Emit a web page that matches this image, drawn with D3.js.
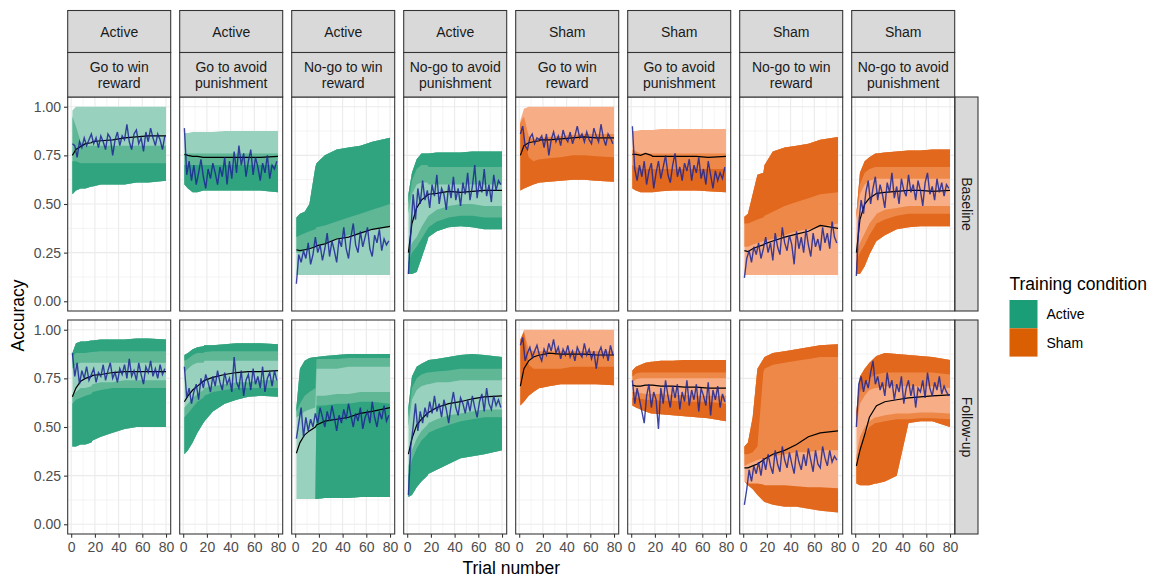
<!DOCTYPE html>
<html>
<head>
<meta charset="utf-8">
<script src="https://cdn.jsdelivr.net/npm/d3@7"></script>
<style>
  body { margin: 0; background: #fff; }
  svg { display: block; font-family: "Liberation Sans", Arial, sans-serif; }
</style>
</head>
<body>
<div id="chart"></div>
<script>
// --- facets / ticks ---
const sessions = ["Baseline", "Follow-up"];
const groups = ["Active", "Active", "Active", "Active", "Sham", "Sham", "Sham", "Sham"];
const tasks = [["Go to win", "reward"], ["Go to avoid", "punishment"], ["No-go to win", "reward"], ["No-go to avoid", "punishment"],
               ["Go to win", "reward"], ["Go to avoid", "punishment"], ["No-go to win", "reward"], ["No-go to avoid", "punishment"]];
const xTicks = [0, 20, 40, 60, 80];
const yTicks = [0, 0.25, 0.5, 0.75, 1];
const legendLabels = ["Active", "Sham"];

// trials at which bands and model mean were read; observed accuracy read every 2nd trial
const trialGrid = [1, 4, 8, 12, 17, 18, 25, 35, 45, 55, 65, 80];
const obsTrials = d3.range(1, 80, 2);

// --- Baseline ---
const b1_lo = [0.55,0.57,0.58,0.58,0.59,0.59,0.60,0.60,0.60,0.61,0.61,0.62];
const b1_hi = [0.98,1,1,1,1,1,1,1,1,1,1,1];
const b1_midHi = [0.95,0.90,0.82,0.80,0.80,0.80,0.80,0.80,0.80,0.80,0.80,0.80];
const b1_darkHi = [0.72,0.72,0.71,0.71,0.71,0.71,0.71,0.71,0.71,0.71,0.71,0.71];
const b1_mean = [0.75,0.78,0.795,0.81,0.815,0.82,0.825,0.83,0.84,0.845,0.85,0.85];
const b1_obs = [0.81,0.80,0.74,0.82,0.79,0.84,0.80,0.83,0.86,0.81,0.84,0.79,0.85,0.82,0.78,0.86,0.84,0.75,0.83,0.87,0.80,0.85,0.83,0.91,0.82,0.78,0.86,0.88,0.81,0.84,0.77,0.87,0.82,0.89,0.84,0.80,0.86,0.83,0.78,0.85];

const b2_lo = [0.60,0.58,0.56,0.56,0.57,0.57,0.57,0.57,0.57,0.57,0.57,0.56];
const b2_hi = [0.865,0.865,0.87,0.87,0.87,0.87,0.87,0.875,0.875,0.875,0.875,0.875];
const b2_midHi = [0.76,0.76,0.76,0.76,0.76,0.76,0.76,0.76,0.76,0.76,0.76,0.76];
const b2_darkHi = [0.70,0.70,0.70,0.70,0.70,0.70,0.70,0.70,0.70,0.70,0.70,0.70];
const b2_mean = [0.755,0.75,0.745,0.745,0.74,0.74,0.74,0.74,0.74,0.74,0.74,0.745];
const b2_obs = [0.89,0.65,0.72,0.62,0.70,0.60,0.66,0.73,0.64,0.58,0.68,0.63,0.71,0.66,0.60,0.69,0.64,0.74,0.60,0.72,0.63,0.77,0.66,0.80,0.70,0.76,0.64,0.72,0.78,0.65,0.74,0.69,0.62,0.71,0.66,0.75,0.63,0.70,0.68,0.72];

const b3_lo = [0.135,0.135,0.135,0.135,0.135,0.135,0.135,0.135,0.135,0.135,0.135,0.135];
const b3_hi = [0.43,0.45,0.46,0.50,0.69,0.71,0.75,0.78,0.79,0.80,0.82,0.84];
const b3_midLo = [0.25,0.25,0.26,0.27,0.28,0.285,0.30,0.32,0.34,0.35,0.37,0.38];
const b3_darkLo = [0.33,0.34,0.35,0.36,0.37,0.38,0.39,0.41,0.43,0.45,0.47,0.50];
const b3_mean = [0.265,0.26,0.265,0.27,0.28,0.285,0.295,0.32,0.33,0.35,0.37,0.385];
const b3_obs = [0.09,0.24,0.20,0.26,0.22,0.30,0.19,0.24,0.33,0.25,0.29,0.21,0.27,0.35,0.23,0.31,0.26,0.20,0.32,0.28,0.38,0.27,0.22,0.33,0.40,0.29,0.25,0.36,0.28,0.33,0.38,0.27,0.23,0.34,0.30,0.37,0.26,0.32,0.29,0.31];

const b4_lo = [0.14,0.14,0.15,0.22,0.31,0.33,0.36,0.38,0.385,0.38,0.37,0.37];
const b4_hi = [0.55,0.66,0.73,0.76,0.76,0.76,0.765,0.765,0.765,0.77,0.77,0.77];
const b4_upMid = [0.45,0.55,0.60,0.61,0.61,0.60,0.60,0.60,0.60,0.60,0.60,0.60];
const b4_upDark = [0.50,0.62,0.68,0.70,0.70,0.69,0.69,0.69,0.69,0.69,0.69,0.69];
const b4_lowMid = [0.25,0.30,0.33,0.38,0.43,0.44,0.47,0.49,0.50,0.50,0.49,0.49];
const b4_lowDark = [0.20,0.25,0.28,0.32,0.37,0.38,0.41,0.43,0.44,0.44,0.43,0.43];
const b4_mean = [0.25,0.40,0.48,0.52,0.545,0.55,0.555,0.565,0.56,0.565,0.57,0.57];
const b4_obs = [0.14,0.35,0.55,0.42,0.58,0.50,0.62,0.52,0.57,0.48,0.60,0.54,0.65,0.50,0.58,0.55,0.47,0.60,0.53,0.64,0.52,0.58,0.49,0.61,0.55,0.66,0.52,0.59,0.70,0.53,0.62,0.56,0.68,0.54,0.60,0.51,0.65,0.57,0.62,0.60];

const b5_lo = [0.57,0.58,0.59,0.60,0.61,0.61,0.615,0.62,0.625,0.625,0.62,0.615];
const b5_hi = [0.93,0.99,1,1,1,1,1,1,1,1,1,1];
const b5_midHi = [0.92,0.95,0.85,0.83,0.84,0.84,0.845,0.85,0.855,0.86,0.86,0.86];
const b5_darkHi = [0.92,0.85,0.74,0.72,0.73,0.73,0.735,0.74,0.75,0.75,0.745,0.74];
const b5_mean = [0.75,0.80,0.815,0.82,0.825,0.83,0.83,0.835,0.84,0.845,0.84,0.84];
const b5_obs = [0.86,0.90,0.80,0.78,0.84,0.86,0.81,0.84,0.83,0.85,0.79,0.86,0.75,0.83,0.87,0.82,0.85,0.80,0.88,0.84,0.82,0.87,0.81,0.85,0.90,0.84,0.86,0.82,0.87,0.83,0.81,0.89,0.85,0.82,0.91,0.84,0.80,0.86,0.84,0.81];

const b6_lo = [0.58,0.57,0.56,0.56,0.56,0.56,0.565,0.57,0.57,0.57,0.565,0.56];
const b6_hi = [0.875,0.875,0.88,0.88,0.88,0.88,0.885,0.885,0.885,0.885,0.885,0.885];
const b6_midHi = [0.78,0.77,0.76,0.76,0.76,0.76,0.76,0.76,0.76,0.76,0.76,0.76];
const b6_darkHi = [0.70,0.69,0.68,0.68,0.68,0.68,0.68,0.68,0.68,0.68,0.68,0.68];
const b6_mean = [0.755,0.755,0.75,0.76,0.75,0.745,0.745,0.745,0.745,0.745,0.74,0.745];
const b6_obs = [0.90,0.68,0.62,0.70,0.64,0.72,0.60,0.67,0.71,0.58,0.66,0.72,0.63,0.69,0.75,0.65,0.61,0.70,0.76,0.64,0.69,0.62,0.71,0.67,0.73,0.62,0.70,0.66,0.74,0.63,0.68,0.60,0.72,0.65,0.58,0.67,0.62,0.66,0.63,0.69];

const b7_lo = [0.135,0.135,0.135,0.135,0.135,0.135,0.135,0.135,0.135,0.135,0.135,0.135];
const b7_hi = [0.435,0.45,0.55,0.65,0.66,0.70,0.77,0.79,0.80,0.81,0.83,0.845];
const b7_midLo = [0.28,0.28,0.29,0.30,0.31,0.31,0.32,0.34,0.36,0.37,0.38,0.40];
const b7_darkLo = [0.40,0.40,0.41,0.42,0.43,0.44,0.46,0.49,0.51,0.53,0.55,0.56];
const b7_mean = [0.26,0.255,0.27,0.28,0.29,0.295,0.31,0.33,0.345,0.36,0.39,0.375];
const b7_obs = [0.12,0.22,0.26,0.20,0.28,0.24,0.30,0.22,0.27,0.33,0.25,0.30,0.21,0.35,0.28,0.24,0.38,0.30,0.26,0.34,0.29,0.19,0.36,0.27,0.33,0.25,0.37,0.29,0.23,0.35,0.28,0.32,0.26,0.38,0.30,0.35,0.27,0.41,0.33,0.30];

const b8_lo = [0.14,0.14,0.18,0.24,0.30,0.31,0.34,0.37,0.38,0.385,0.385,0.385];
const b8_hi = [0.45,0.66,0.72,0.74,0.76,0.76,0.765,0.77,0.775,0.775,0.78,0.78];
const b8_upMid = [0.42,0.55,0.60,0.62,0.63,0.63,0.63,0.63,0.63,0.63,0.63,0.63];
const b8_upDark = [0.44,0.60,0.66,0.68,0.69,0.69,0.69,0.69,0.69,0.69,0.69,0.69];
const b8_lowMid = [0.25,0.30,0.35,0.40,0.44,0.45,0.47,0.48,0.49,0.49,0.49,0.49];
const b8_lowDark = [0.20,0.25,0.29,0.34,0.39,0.40,0.42,0.44,0.45,0.45,0.45,0.45];
const b8_mean = [0.25,0.42,0.50,0.53,0.55,0.555,0.56,0.565,0.57,0.57,0.565,0.57];
const b8_obs = [0.13,0.40,0.52,0.45,0.56,0.62,0.50,0.58,0.64,0.52,0.60,0.55,0.48,0.61,0.56,0.66,0.53,0.59,0.50,0.63,0.57,0.54,0.65,0.56,0.60,0.52,0.62,0.57,0.49,0.61,0.66,0.55,0.59,0.52,0.63,0.56,0.61,0.54,0.60,0.58];

// --- Follow-up ---
const f1_lo = [0.40,0.40,0.41,0.41,0.42,0.43,0.45,0.47,0.49,0.50,0.50,0.50];
const f1_hi = [0.88,0.93,0.94,0.94,0.945,0.945,0.95,0.95,0.95,0.955,0.955,0.95];
const f1_upMid = [0.80,0.82,0.83,0.83,0.83,0.83,0.83,0.83,0.83,0.83,0.83,0.83];
const f1_upDark = [0.86,0.88,0.88,0.88,0.885,0.885,0.89,0.89,0.89,0.89,0.89,0.89];
const f1_lowMid = [0.66,0.68,0.70,0.70,0.71,0.72,0.73,0.73,0.74,0.74,0.74,0.74];
const f1_lowDark = [0.62,0.64,0.65,0.66,0.67,0.68,0.69,0.70,0.70,0.70,0.70,0.70];
const f1_mean = [0.655,0.70,0.735,0.75,0.76,0.765,0.77,0.78,0.785,0.785,0.785,0.785];
const f1_obs = [0.88,0.76,0.83,0.72,0.79,0.75,0.81,0.74,0.77,0.80,0.73,0.78,0.76,0.82,0.74,0.79,0.83,0.75,0.78,0.73,0.80,0.77,0.82,0.75,0.85,0.76,0.79,0.74,0.83,0.77,0.72,0.81,0.78,0.84,0.76,0.80,0.75,0.82,0.77,0.80];

const f2_lo = [0.36,0.38,0.42,0.47,0.52,0.53,0.58,0.62,0.64,0.655,0.66,0.655];
const f2_hi = [0.87,0.88,0.90,0.91,0.915,0.92,0.92,0.925,0.93,0.93,0.93,0.925];
const f2_upMid = [0.78,0.80,0.82,0.83,0.83,0.84,0.84,0.84,0.84,0.84,0.84,0.84];
const f2_upDark = [0.84,0.85,0.87,0.88,0.88,0.885,0.89,0.89,0.89,0.89,0.89,0.89];
const f2_lowMid = [0.60,0.62,0.65,0.67,0.69,0.70,0.71,0.72,0.73,0.73,0.74,0.74];
const f2_lowDark = [0.55,0.57,0.60,0.63,0.65,0.66,0.68,0.69,0.70,0.70,0.70,0.70];
const f2_mean = [0.63,0.66,0.69,0.71,0.735,0.74,0.755,0.77,0.78,0.785,0.785,0.79];
const f2_obs = [0.81,0.65,0.70,0.62,0.68,0.72,0.64,0.75,0.70,0.77,0.73,0.68,0.76,0.71,0.79,0.73,0.69,0.78,0.72,0.75,0.68,0.86,0.73,0.70,0.79,0.66,0.74,0.77,0.69,0.80,0.72,0.76,0.70,0.81,0.68,0.75,0.78,0.71,0.79,0.74];

const f3_lo = [0.13,0.13,0.13,0.13,0.13,0.13,0.135,0.135,0.135,0.14,0.14,0.14];
const f3_hi = [0.60,0.80,0.84,0.855,0.86,0.86,0.865,0.87,0.875,0.875,0.875,0.875];
const f3_upMid = [0.55,0.56,0.58,0.59,0.60,0.80,0.80,0.80,0.81,0.81,0.81,0.81];
const f3_upDark = [0.58,0.62,0.66,0.68,0.70,0.85,0.85,0.85,0.855,0.855,0.855,0.855];
const f3_lowMid = [0.13,0.13,0.13,0.13,0.13,0.66,0.66,0.67,0.67,0.68,0.68,0.68];
const f3_lowDark = [0.13,0.13,0.13,0.13,0.13,0.61,0.61,0.62,0.62,0.63,0.63,0.62];
const f3_mean = [0.365,0.42,0.46,0.48,0.50,0.51,0.53,0.54,0.55,0.57,0.58,0.60];
const f3_obs = [0.44,0.52,0.60,0.45,0.55,0.48,0.54,0.50,0.57,0.52,0.60,0.55,0.50,0.58,0.53,0.61,0.55,0.48,0.56,0.52,0.59,0.54,0.62,0.56,0.50,0.57,0.53,0.60,0.49,0.55,0.58,0.52,0.63,0.55,0.50,0.58,0.54,0.61,0.53,0.56];

const f4_lo = [0.14,0.15,0.19,0.22,0.25,0.26,0.28,0.31,0.34,0.35,0.36,0.38];
const f4_hi = [0.60,0.76,0.81,0.825,0.84,0.845,0.85,0.86,0.87,0.875,0.87,0.86];
const f4_upMid = [0.50,0.64,0.69,0.71,0.72,0.72,0.73,0.73,0.74,0.74,0.74,0.74];
const f4_upDark = [0.55,0.70,0.75,0.77,0.78,0.78,0.785,0.79,0.80,0.80,0.80,0.80];
const f4_lowMid = [0.30,0.38,0.44,0.48,0.51,0.52,0.54,0.56,0.57,0.58,0.59,0.59];
const f4_lowDark = [0.25,0.33,0.39,0.43,0.46,0.47,0.49,0.51,0.53,0.54,0.55,0.55];
const f4_mean = [0.36,0.44,0.51,0.54,0.57,0.575,0.60,0.62,0.63,0.645,0.655,0.66];
const f4_obs = [0.15,0.40,0.50,0.62,0.48,0.58,0.52,0.60,0.55,0.63,0.57,0.66,0.58,0.62,0.55,0.64,0.59,0.52,0.61,0.68,0.60,0.56,0.65,0.62,0.57,0.64,0.58,0.66,0.60,0.55,0.63,0.67,0.58,0.70,0.62,0.59,0.66,0.61,0.64,0.60];

const f5_lo = [0.61,0.63,0.66,0.68,0.70,0.70,0.71,0.72,0.72,0.72,0.72,0.715];
const f5_hi = [0.95,1,1,1,1,1,1,1,1,1,1,1];
const f5_midHi = [0.95,0.99,0.90,0.89,0.89,0.89,0.89,0.89,0.89,0.89,0.89,0.89];
const f5_darkHi = [0.95,0.99,0.82,0.80,0.80,0.80,0.80,0.80,0.81,0.81,0.81,0.81];
const f5_mean = [0.71,0.80,0.84,0.86,0.87,0.87,0.88,0.875,0.875,0.875,0.87,0.87];
const f5_obs = [0.92,0.96,0.84,0.88,0.91,0.86,0.89,0.92,0.87,0.84,0.90,0.87,0.93,0.89,0.95,0.88,0.91,0.85,0.90,0.87,0.92,0.86,0.89,0.84,0.91,0.88,0.86,0.93,0.87,0.90,0.85,0.89,0.80,0.88,0.91,0.86,0.90,0.84,0.92,0.87];

const f6_lo = [0.61,0.60,0.59,0.58,0.57,0.57,0.565,0.56,0.555,0.55,0.545,0.53];
const f6_hi = [0.79,0.81,0.82,0.83,0.835,0.835,0.84,0.84,0.845,0.845,0.845,0.845];
const f6_upMid = [0.73,0.745,0.75,0.75,0.75,0.75,0.75,0.75,0.75,0.75,0.75,0.75];
const f6_upDark = [0.76,0.775,0.78,0.78,0.78,0.78,0.78,0.78,0.78,0.78,0.78,0.78];
const f6_lowMid = [0.68,0.68,0.675,0.67,0.67,0.67,0.67,0.665,0.665,0.66,0.66,0.66];
const f6_lowDark = [0.65,0.65,0.645,0.64,0.64,0.64,0.635,0.635,0.63,0.63,0.63,0.62];
const f6_mean = [0.715,0.71,0.71,0.715,0.715,0.715,0.71,0.71,0.705,0.705,0.70,0.70];
const f6_obs = [0.74,0.62,0.70,0.64,0.58,0.52,0.66,0.72,0.60,0.68,0.64,0.49,0.70,0.62,0.74,0.66,0.60,0.71,0.65,0.72,0.59,0.68,0.63,0.74,0.61,0.69,0.64,0.72,0.58,0.70,0.66,0.61,0.73,0.56,0.69,0.64,0.71,0.60,0.67,0.63];

const f7_lo = [0.22,0.20,0.18,0.15,0.12,0.115,0.10,0.09,0.09,0.08,0.07,0.06];
const f7_hi = [0.40,0.42,0.55,0.80,0.85,0.86,0.88,0.89,0.90,0.91,0.92,0.925];
const f7_upMid = [0.30,0.31,0.32,0.33,0.34,0.34,0.35,0.36,0.37,0.37,0.38,0.38];
const f7_upDark = [0.36,0.36,0.37,0.40,0.78,0.80,0.82,0.83,0.84,0.85,0.86,0.86];
const f7_lowDark = [0.22,0.21,0.21,0.21,0.205,0.20,0.20,0.20,0.195,0.19,0.19,0.185];
const f7_mean = [0.29,0.29,0.30,0.31,0.33,0.335,0.36,0.38,0.41,0.45,0.47,0.48];
const f7_obs = [0.10,0.18,0.28,0.22,0.30,0.26,0.32,0.25,0.34,0.28,0.36,0.30,0.26,0.38,0.31,0.27,0.40,0.33,0.29,0.37,0.31,0.26,0.38,0.32,0.28,0.36,0.30,0.39,0.33,0.27,0.38,0.31,0.29,0.40,0.34,0.30,0.38,0.32,0.35,0.33];

const f8_lo = [0.21,0.20,0.20,0.20,0.21,0.21,0.22,0.25,0.52,0.53,0.53,0.50];
const f8_hi = [0.58,0.76,0.80,0.83,0.86,0.865,0.88,0.875,0.87,0.865,0.86,0.845];
const f8_upMid = [0.50,0.62,0.66,0.69,0.70,0.70,0.71,0.71,0.71,0.71,0.71,0.70];
const f8_upDark = [0.55,0.68,0.72,0.75,0.77,0.77,0.78,0.78,0.78,0.78,0.78,0.77];
const f8_lowMid = [0.35,0.45,0.50,0.53,0.55,0.55,0.56,0.57,0.57,0.575,0.575,0.57];
const f8_lowDark = [0.30,0.40,0.46,0.50,0.52,0.52,0.53,0.54,0.54,0.545,0.545,0.54];
const f8_mean = [0.30,0.38,0.46,0.55,0.60,0.61,0.63,0.64,0.65,0.655,0.66,0.665];
const f8_obs = [0.50,0.72,0.76,0.68,0.74,0.70,0.78,0.84,0.72,0.76,0.69,0.73,0.66,0.78,0.70,0.74,0.64,0.72,0.68,0.76,0.62,0.70,0.74,0.66,0.72,0.60,0.70,0.68,0.74,0.65,0.78,0.70,0.66,0.73,0.69,0.76,0.67,0.71,0.68,0.66];

// bands per panel: [shade, lower edge, upper edge]
const bandsBaseline = [
  [["light", b1_lo, b1_hi], ["mid", b1_lo, b1_midHi], ["dark", b1_lo, b1_darkHi]],
  [["light", b2_lo, b2_hi], ["mid", b2_lo, b2_midHi], ["dark", b2_lo, b2_darkHi]],
  [["light", b3_lo, b3_hi], ["mid", b3_midLo, b3_hi], ["dark", b3_darkLo, b3_hi]],
  [["light", b4_lo, b4_hi], ["mid", b4_upMid, b4_hi], ["mid", b4_lo, b4_lowMid], ["dark", b4_upDark, b4_hi], ["dark", b4_lo, b4_lowDark]],
  [["light", b5_lo, b5_hi], ["mid", b5_lo, b5_midHi], ["dark", b5_lo, b5_darkHi]],
  [["light", b6_lo, b6_hi], ["mid", b6_lo, b6_midHi], ["dark", b6_lo, b6_darkHi]],
  [["light", b7_lo, b7_hi], ["mid", b7_midLo, b7_hi], ["dark", b7_darkLo, b7_hi]],
  [["light", b8_lo, b8_hi], ["mid", b8_upMid, b8_hi], ["mid", b8_lo, b8_lowMid], ["dark", b8_upDark, b8_hi], ["dark", b8_lo, b8_lowDark]]
];
const bandsFollowup = [
  [["light", f1_lo, f1_hi], ["mid", f1_upMid, f1_hi], ["mid", f1_lo, f1_lowMid], ["dark", f1_upDark, f1_hi], ["dark", f1_lo, f1_lowDark]],
  [["light", f2_lo, f2_hi], ["mid", f2_upMid, f2_hi], ["mid", f2_lo, f2_lowMid], ["dark", f2_upDark, f2_hi], ["dark", f2_lo, f2_lowDark]],
  [["light", f3_lo, f3_hi], ["mid", f3_upMid, f3_hi], ["mid", f3_lo, f3_lowMid], ["dark", f3_upDark, f3_hi], ["dark", f3_lo, f3_lowDark]],
  [["light", f4_lo, f4_hi], ["mid", f4_upMid, f4_hi], ["mid", f4_lo, f4_lowMid], ["dark", f4_upDark, f4_hi], ["dark", f4_lo, f4_lowDark]],
  [["light", f5_lo, f5_hi], ["mid", f5_lo, f5_midHi], ["dark", f5_lo, f5_darkHi]],
  [["light", f6_lo, f6_hi], ["mid", f6_upMid, f6_hi], ["mid", f6_lo, f6_lowMid], ["dark", f6_upDark, f6_hi], ["dark", f6_lo, f6_lowDark]],
  [["light", f7_lo, f7_hi], ["mid", f7_upMid, f7_hi], ["dark", f7_upDark, f7_hi], ["dark", f7_lo, f7_lowDark]],
  [["light", f8_lo, f8_hi], ["mid", f8_upMid, f8_hi], ["mid", f8_lo, f8_lowMid], ["dark", f8_upDark, f8_hi], ["dark", f8_lo, f8_lowDark]]
];
const meanBaseline = [b1_mean, b2_mean, b3_mean, b4_mean, b5_mean, b6_mean, b7_mean, b8_mean];
const meanFollowup = [f1_mean, f2_mean, f3_mean, f4_mean, f5_mean, f6_mean, f7_mean, f8_mean];
const obsBaseline = [b1_obs, b2_obs, b3_obs, b4_obs, b5_obs, b6_obs, b7_obs, b8_obs];
const obsFollowup = [f1_obs, f2_obs, f3_obs, f4_obs, f5_obs, f6_obs, f7_obs, f8_obs];

const shades = {
  Active: { light: "#99d1bf", mid: "#5fb796", dark: "#30a47f", key: "#1b9e77" },
  Sham:   { light: "#f7ae86", mid: "#ee8849", dark: "#e1681c", key: "#d95f02" }
};

// --- layout ---
const W = 1163, H = 579;
const px0 = 67.7, pw = 103, pitch = 112, ph = 214;
const rowTop = [97, 320];
const stripTop = 10.5, strip1H = 42, strip2H = 44.5;
const stripX = 955, stripW = 23;
const ink = "#333333";

const svg = d3.select("#chart").append("svg").attr("width", W).attr("height", H);

const xScale = c => d3.scaleLinear().domain([-2.95, 83.95]).range([px0 + c * pitch, px0 + c * pitch + pw]);
const yScale = r => d3.scaleLinear().domain([-0.05, 1.05]).range([rowTop[r] + ph, rowTop[r]]);

const allBands = [bandsBaseline, bandsFollowup];
const allMeans = [meanBaseline, meanFollowup];
const allObs = [obsBaseline, obsFollowup];

sessions.forEach((session, r) => {
  const y = yScale(r);
  groups.forEach((grp, c) => {
    const x = xScale(c);
    const left = px0 + c * pitch, top = rowTop[r];
    const clipId = `clip-${r}-${c}`;
    svg.append("clipPath").attr("id", clipId)
      .append("rect").attr("x", left).attr("y", top).attr("width", pw).attr("height", ph);

    const g = svg.append("g").attr("clip-path", `url(#${clipId})`);
    g.append("rect").attr("x", left).attr("y", top).attr("width", pw).attr("height", ph).attr("fill", "#fff");

    // grid
    [10, 30, 50, 70].forEach(v => g.append("line").attr("x1", x(v)).attr("x2", x(v)).attr("y1", top).attr("y2", top + ph)
      .attr("stroke", "#ebebeb").attr("stroke-width", 0.55));
    [0.125, 0.375, 0.625, 0.875].forEach(v => g.append("line").attr("x1", left).attr("x2", left + pw).attr("y1", y(v)).attr("y2", y(v))
      .attr("stroke", "#ebebeb").attr("stroke-width", 0.55));
    xTicks.forEach(v => g.append("line").attr("x1", x(v)).attr("x2", x(v)).attr("y1", top).attr("y2", top + ph)
      .attr("stroke", "#ebebeb").attr("stroke-width", 1.1));
    yTicks.forEach(v => g.append("line").attr("x1", left).attr("x2", left + pw).attr("y1", y(v)).attr("y2", y(v))
      .attr("stroke", "#ebebeb").attr("stroke-width", 1.1));

    // bands
    allBands[r][c].forEach(([shade, lo, hi]) => {
      const area = d3.area()
        .x((d, i) => x(trialGrid[i]))
        .y0((d, i) => y(lo[i]))
        .y1((d, i) => y(hi[i]));
      g.append("path").attr("d", area(trialGrid)).attr("fill", shades[grp][shade]);
    });

    // model mean (black) and observed accuracy (blue)
    const meanLine = d3.line().x((d, i) => x(trialGrid[i])).y(d => y(d));
    g.append("path").attr("d", meanLine(allMeans[r][c])).attr("fill", "none")
      .attr("stroke", "#000").attr("stroke-width", 1.2);
    const obsLine = d3.line().x((d, i) => x(obsTrials[i])).y(d => y(d));
    g.append("path").attr("d", obsLine(allObs[r][c])).attr("fill", "none")
      .attr("stroke", "#1c2694").attr("stroke-opacity", 0.85).attr("stroke-width", 1.4);

    svg.append("rect").attr("x", left).attr("y", top).attr("width", pw).attr("height", ph)
      .attr("fill", "none").attr("stroke", ink).attr("stroke-width", 1.07);

    // x axis under the bottom row
    if (r === 1) {
      const ax = svg.append("g").attr("transform", `translate(0,${top + ph})`)
        .call(d3.axisBottom(x).tickValues(xTicks).tickSize(3.7).tickPadding(4.5));
      ax.select(".domain").remove();
      ax.selectAll("line").attr("stroke", ink).attr("stroke-width", 1.07);
      ax.selectAll("text").attr("fill", "#4d4d4d").style("font-size", "14px").style("font-family", "Liberation Sans, Arial, sans-serif");
    }
  });

  // y axis
  const ay = svg.append("g").attr("transform", `translate(${px0},0)`)
    .call(d3.axisLeft(y).tickValues(yTicks).tickFormat(d3.format(".2f")).tickSize(3.7).tickPadding(2.9));
  ay.select(".domain").remove();
  ay.selectAll("line").attr("stroke", ink).attr("stroke-width", 1.07);
  ay.selectAll("text").attr("fill", "#4d4d4d").style("font-size", "14px").style("font-family", "Liberation Sans, Arial, sans-serif");

  // right strip
  const sy = rowTop[r];
  svg.append("rect").attr("x", stripX).attr("y", sy).attr("width", stripW).attr("height", ph)
    .attr("fill", "#d9d9d9").attr("stroke", ink).attr("stroke-width", 1.07);
  svg.append("text").attr("transform", `translate(${stripX + stripW / 2},${sy + ph / 2}) rotate(90)`)
    .attr("text-anchor", "middle").attr("dominant-baseline", "central")
    .attr("fill", "#1a1a1a").style("font-size", "14px").text(session);
});

// top strips
groups.forEach((grp, c) => {
  const left = px0 + c * pitch;
  svg.append("rect").attr("x", left).attr("y", stripTop).attr("width", pw).attr("height", strip1H)
    .attr("fill", "#d9d9d9").attr("stroke", ink).attr("stroke-width", 1.07);
  svg.append("text").attr("x", left + pw / 2).attr("y", stripTop + strip1H / 2 + 5)
    .attr("text-anchor", "middle").attr("fill", "#1a1a1a").style("font-size", "14px").text(grp);
  const s2 = stripTop + strip1H;
  svg.append("rect").attr("x", left).attr("y", s2).attr("width", pw).attr("height", strip2H)
    .attr("fill", "#d9d9d9").attr("stroke", ink).attr("stroke-width", 1.07);
  const t = svg.append("text").attr("text-anchor", "middle").attr("fill", "#1a1a1a").style("font-size", "14px");
  tasks[c].forEach((line, i) => {
    t.append("tspan").attr("x", left + pw / 2).attr("y", s2 + 19.5 + i * 16.3).text(line);
  });
});

// axis titles
svg.append("text").attr("x", px0 + (7 * pitch + pw) / 2).attr("y", 574)
  .attr("text-anchor", "middle").attr("fill", "#000").style("font-size", "17.5px").text("Trial number");
svg.append("text").attr("transform", `translate(24,${(rowTop[0] + rowTop[1] + ph) / 2}) rotate(-90)`)
  .attr("text-anchor", "middle").attr("fill", "#000").style("font-size", "17.5px").text("Accuracy");

// legend
const lg = svg.append("g");
lg.append("text").attr("x", 1009.5).attr("y", 290).attr("fill", "#000").style("font-size", "17.5px").text("Training condition");
legendLabels.forEach((lab, i) => {
  const ky = 300 + i * 28.3;
  lg.append("rect").attr("x", 1009.5).attr("y", ky).attr("width", 28).attr("height", 28.3).attr("fill", shades[lab].key);
  lg.append("text").attr("x", 1046.5).attr("y", ky + 14.2).attr("dominant-baseline", "central")
    .attr("fill", "#000").style("font-size", "14px").text(lab);
});
</script>
</body>
</html>
